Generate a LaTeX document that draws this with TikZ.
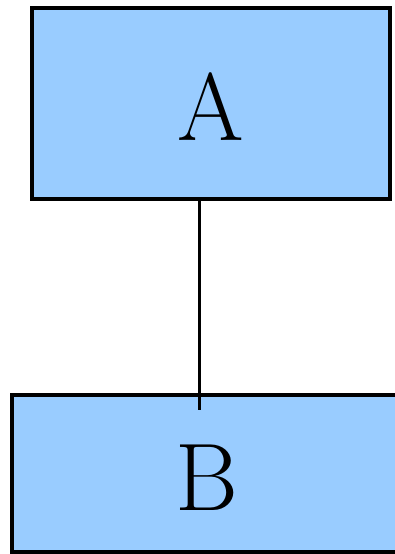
\documentclass[tikz,border=0pt]{standalone}
\usepackage{tikz}
\usetikzlibrary{positioning,calc}
\definecolor{boxblue}{HTML}{99CCFF}
\tikzset{
  trBox/.style={draw=black, fill=boxblue, line width=4pt,
    font=\fontsize{96}{110}\selectfont, text height=73pt, text depth=0pt,
    inner sep=0pt, align=center},
  trLink/.style={line width=3.5pt},
}

\begin{document}
\begin{tikzpicture}[x=1pt, y=-1pt]
\useasboundingbox (0,0) rectangle (395,554);
\node[trBox, minimum width=358pt, minimum height=191pt] (nA) at (211,103.5) {A};
\node[trBox, minimum width=390pt, minimum height=157pt] (nB) at (207,473.5) {B};

\coordinate (nBin) at (199.5,410);
\draw[trLink] (nA.south -| nBin) -- (nBin);
\end{tikzpicture}
\end{document}
